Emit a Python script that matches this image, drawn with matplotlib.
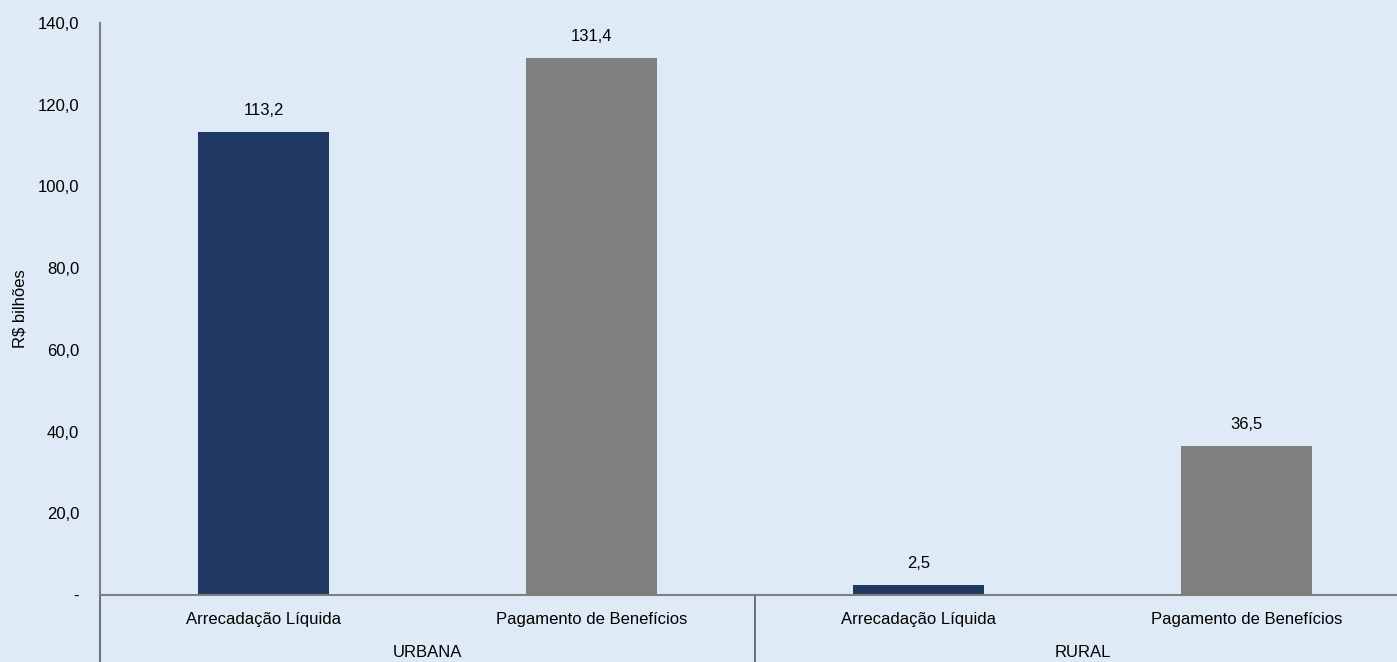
import numpy as np
import matplotlib.pyplot as plt

plt.rcParams['font.family'] = ['Liberation Sans Narrow', 'Liberation Sans', 'DejaVu Sans']

# Data (R$ billions)
groups = ['URBANA', 'RURAL']
categories = ['Arrecadação Líquida', 'Pagamento de Benefícios',
              'Arrecadação Líquida', 'Pagamento de Benefícios']
values = [113.2, 131.4, 2.5, 36.5]
yticks = [0, 20, 40, 60, 80, 100, 120, 140]

bg = '#DEEAF6'
bar_colors = ['#203864', '#7F7F7F', '#203864', '#7F7F7F']
line_color = '#7F7F7F'

W, H = 1397, 662
fig = plt.figure(figsize=(W / 100, H / 100), dpi=100, facecolor=bg)
ax = fig.add_axes([100 / W, 67 / H, 1310 / W, 572 / H], facecolor=bg)

x = np.arange(len(values))
ax.bar(x, values, width=0.4, color=bar_colors, zorder=2)

for xi, v in zip(x, values):
    ax.annotate(f'{v:.1f}'.replace('.', ','), (xi, v), xytext=(0, 14),
                textcoords='offset pixels', ha='center', va='bottom', fontsize=12)

ax.set_xlim(-0.5, 3.5)
ax.set_ylim(0, 140)
ax.set_yticks(yticks)
ax.set_yticklabels(['-' if t == 0 else f'{t:.1f}'.replace('.', ',') for t in yticks])
ax.set_xticks(x)
ax.set_xticklabels(categories)
ax.tick_params(axis='y', length=0, pad=15, labelsize=12)
ax.tick_params(axis='x', length=0, pad=12, labelsize=12)

for s in ['top', 'right']:
    ax.spines[s].set_visible(False)
ax.spines['left'].set_color(line_color)
ax.spines['left'].set_linewidth(1.5)
ax.spines['bottom'].set_color(line_color)
ax.spines['bottom'].set_linewidth(1.5)

# group separators and labels under the axis
trans = ax.get_xaxis_transform()
for xs in [-0.5, 1.5]:
    ax.plot([xs, xs], [0, -0.2], transform=trans, color='#595959',
            lw=1.2, clip_on=False)
for i, g in enumerate(groups):
    ax.text(2 * i + 0.5, -0.101, g, transform=trans, ha='center',
            va='center', fontsize=12)

fig.text(20 / W, 1 - 309 / H, 'R$ bilhões', rotation=90, ha='center',
         va='center', fontsize=12)

fig.savefig('out.png', dpi=100, facecolor=bg)
